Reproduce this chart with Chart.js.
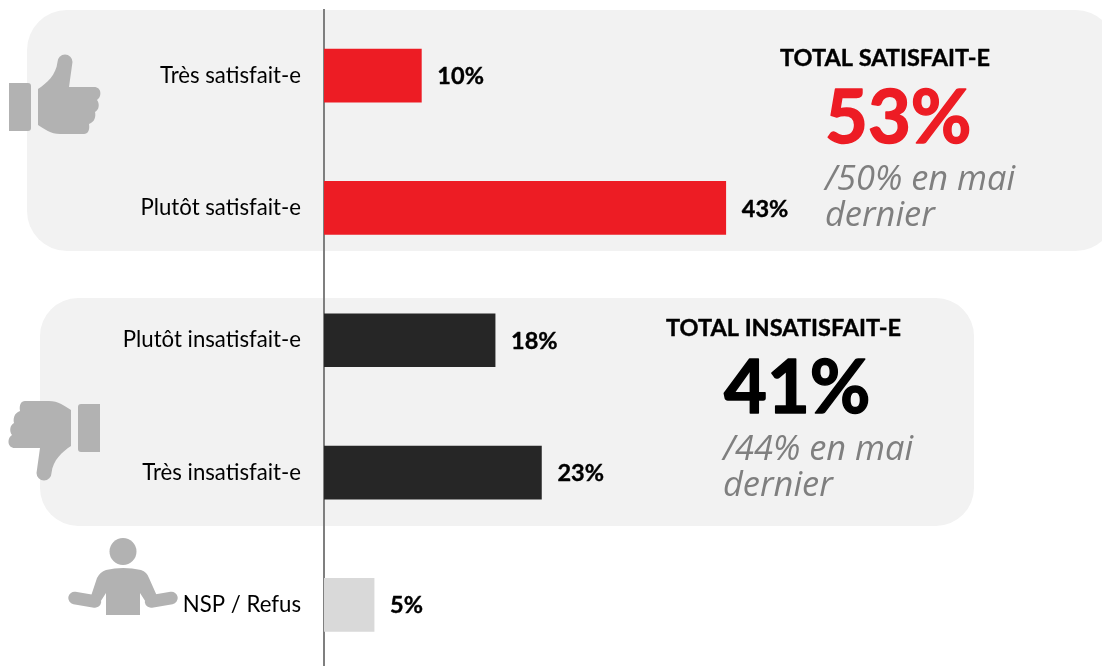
<!DOCTYPE html>
<html><head><meta charset="utf-8">
<style>html,body{margin:0;padding:0;background:#fff;overflow:hidden}#w{position:relative;width:1102px;height:666px;overflow:hidden}#i{position:relative;width:1102px;height:671px}</style>
<script src="https://cdn.jsdelivr.net/npm/chart.js@4"></script>
</head><body><div id="w"><div id="i"><canvas id="c"></canvas></div></div>
<script>
const categories=["Très satisfait-e","Plutôt satisfait-e","Plutôt insatisfait-e","Très insatisfait-e","NSP / Refus"];
const values=[10.3,42.5,18.1,23,5.3];
const barColors=["#ED1C24","#ED1C24","#262626","#262626","#D9D9D9"];
const summaryTitles=["TOTAL SATISFAIT-E","TOTAL INSATISFAIT-E"];
const summaryTotals=["53%","41%"];
const summaryNotes=[["/50% en mai","dernier"],["/44% en mai","dernier"]];

const SANS='Lato, "Noto Sans", sans-serif', ITAL='"Open Sans", sans-serif';
function rr(ctx,x,y,w,h,r){ctx.beginPath();ctx.roundRect(x,y,w,h,r);ctx.fill();}
function thumb(ctx){
  ctx.beginPath();ctx.roundRect(9,83,22,48,[0,3,3,0]);ctx.fill();
  ctx.beginPath();ctx.moveTo(38,89);
  ctx.bezierCurveTo(47,83,56,75,57.5,62);
  ctx.arc(65,62,7.5,Math.PI,0);
  ctx.lineTo(69,87);
  ctx.lineTo(94,87);
  ctx.bezierCurveTo(102,87,102,97,97,100);
  ctx.bezierCurveTo(100,104,99,110,95,112);
  ctx.bezierCurveTo(96,116,95,122,89,124);
  ctx.bezierCurveTo(90,130,88,134,84,134);
  ctx.lineTo(60,134);
  ctx.bezierCurveTo(51,134,44,129,38,125);
  ctx.closePath();ctx.fill();
}
function person(ctx){
  ctx.beginPath();ctx.arc(123,551.5,13.5,0,Math.PI*2);ctx.fill();
  ctx.beginPath();ctx.moveTo(106,570);
  ctx.quadraticCurveTo(123,566,141,570);
  ctx.quadraticCurveTo(147,572,149,578);
  ctx.lineTo(157,596);ctx.lineTo(149,607);ctx.lineTo(140,593);ctx.lineTo(140,615);
  ctx.lineTo(106,615);ctx.lineTo(106,593);ctx.lineTo(97,607);ctx.lineTo(91,596);ctx.lineTo(97,578);
  ctx.quadraticCurveTo(100,572,106,570);
  ctx.closePath();ctx.fill();
  ctx.strokeStyle=ctx.fillStyle;ctx.lineWidth=12.5;ctx.lineCap="round";
  ctx.beginPath();ctx.moveTo(74.5,598);ctx.lineTo(95,601.5);ctx.stroke();
  ctx.beginPath();ctx.moveTo(171.5,598);ctx.lineTo(151,601.5);ctx.stroke();
}
const backdrop={id:"backdrop",beforeDraw(chart){
  const ctx=chart.ctx;ctx.save();
  ctx.fillStyle="#F2F2F2";
  rr(ctx,27,10,1088.5,241,40);
  rr(ctx,40,298,934,228,38);
  ctx.restore();
}};
function heavy(ctx,t,x,y,w){ctx.lineWidth=w;ctx.strokeStyle=ctx.fillStyle;ctx.lineJoin="round";ctx.strokeText(t,x,y);ctx.fillText(t,x,y);}
const overlay={id:"overlay",afterDraw(chart){
  const ctx=chart.ctx;ctx.save();
  ctx.fillStyle="#000";ctx.font='bold 23.5px '+SANS;ctx.textAlign="left";ctx.textBaseline="middle";
  chart.getDatasetMeta(0).data.forEach((b,i)=>heavy(ctx,Math.round(values[i])+"%",b.x+16,b.y+1,0.4));
  ctx.fillStyle="#B2B2B2";
  thumb(ctx);
  ctx.save();ctx.translate(109,535);ctx.rotate(Math.PI);thumb(ctx);ctx.restore();
  person(ctx);
  ctx.textBaseline="alphabetic";ctx.textAlign="left";
  ctx.fillStyle="#000";ctx.font='bold 23.5px '+SANS;
  heavy(ctx,summaryTitles[0],780,66,0.4);
  heavy(ctx,summaryTitles[1],666,336,0.4);
  ctx.font='bold 74px '+SANS;
  ctx.fillStyle="#ED1C24";heavy(ctx,summaryTotals[0],825,143,1.5);
  ctx.fillStyle="#000";heavy(ctx,summaryTotals[1],724,413,1.5);
  ctx.fillStyle="#7F7F7F";ctx.font='italic 34.4px '+ITAL;
  ctx.fillText(summaryNotes[0][0],825,190);ctx.fillText(summaryNotes[0][1],825,226);
  ctx.fillText(summaryNotes[1][0],723,460);ctx.fillText(summaryNotes[1][1],723,496);
  ctx.restore();
}};
new Chart(document.getElementById("c"),{
  type:"bar",
  data:{labels:categories,datasets:[{data:values,backgroundColor:barColors,barThickness:53,borderWidth:0}]},
  options:{
    indexAxis:"y",responsive:true,maintainAspectRatio:false,animation:false,
    layout:{padding:{top:9.5,bottom:0,left:0,right:0}},
    plugins:{legend:{display:false},tooltip:{enabled:false},title:{display:false}},
    scales:{
      x:{display:false,min:0,max:82.3,grid:{display:false}},
      y:{afterFit(s){s.width=324;s.paddingTop=0;s.paddingBottom=0;},
        grid:{display:false,drawTicks:false},
        border:{display:true,color:"#7F7F7F",width:2},
        ticks:{color:"#000",font:{family:SANS,size:22.2},padding:23,crossAlign:"near"}}
    }
  },
  plugins:[backdrop,overlay]
});
</script>
</body></html>
